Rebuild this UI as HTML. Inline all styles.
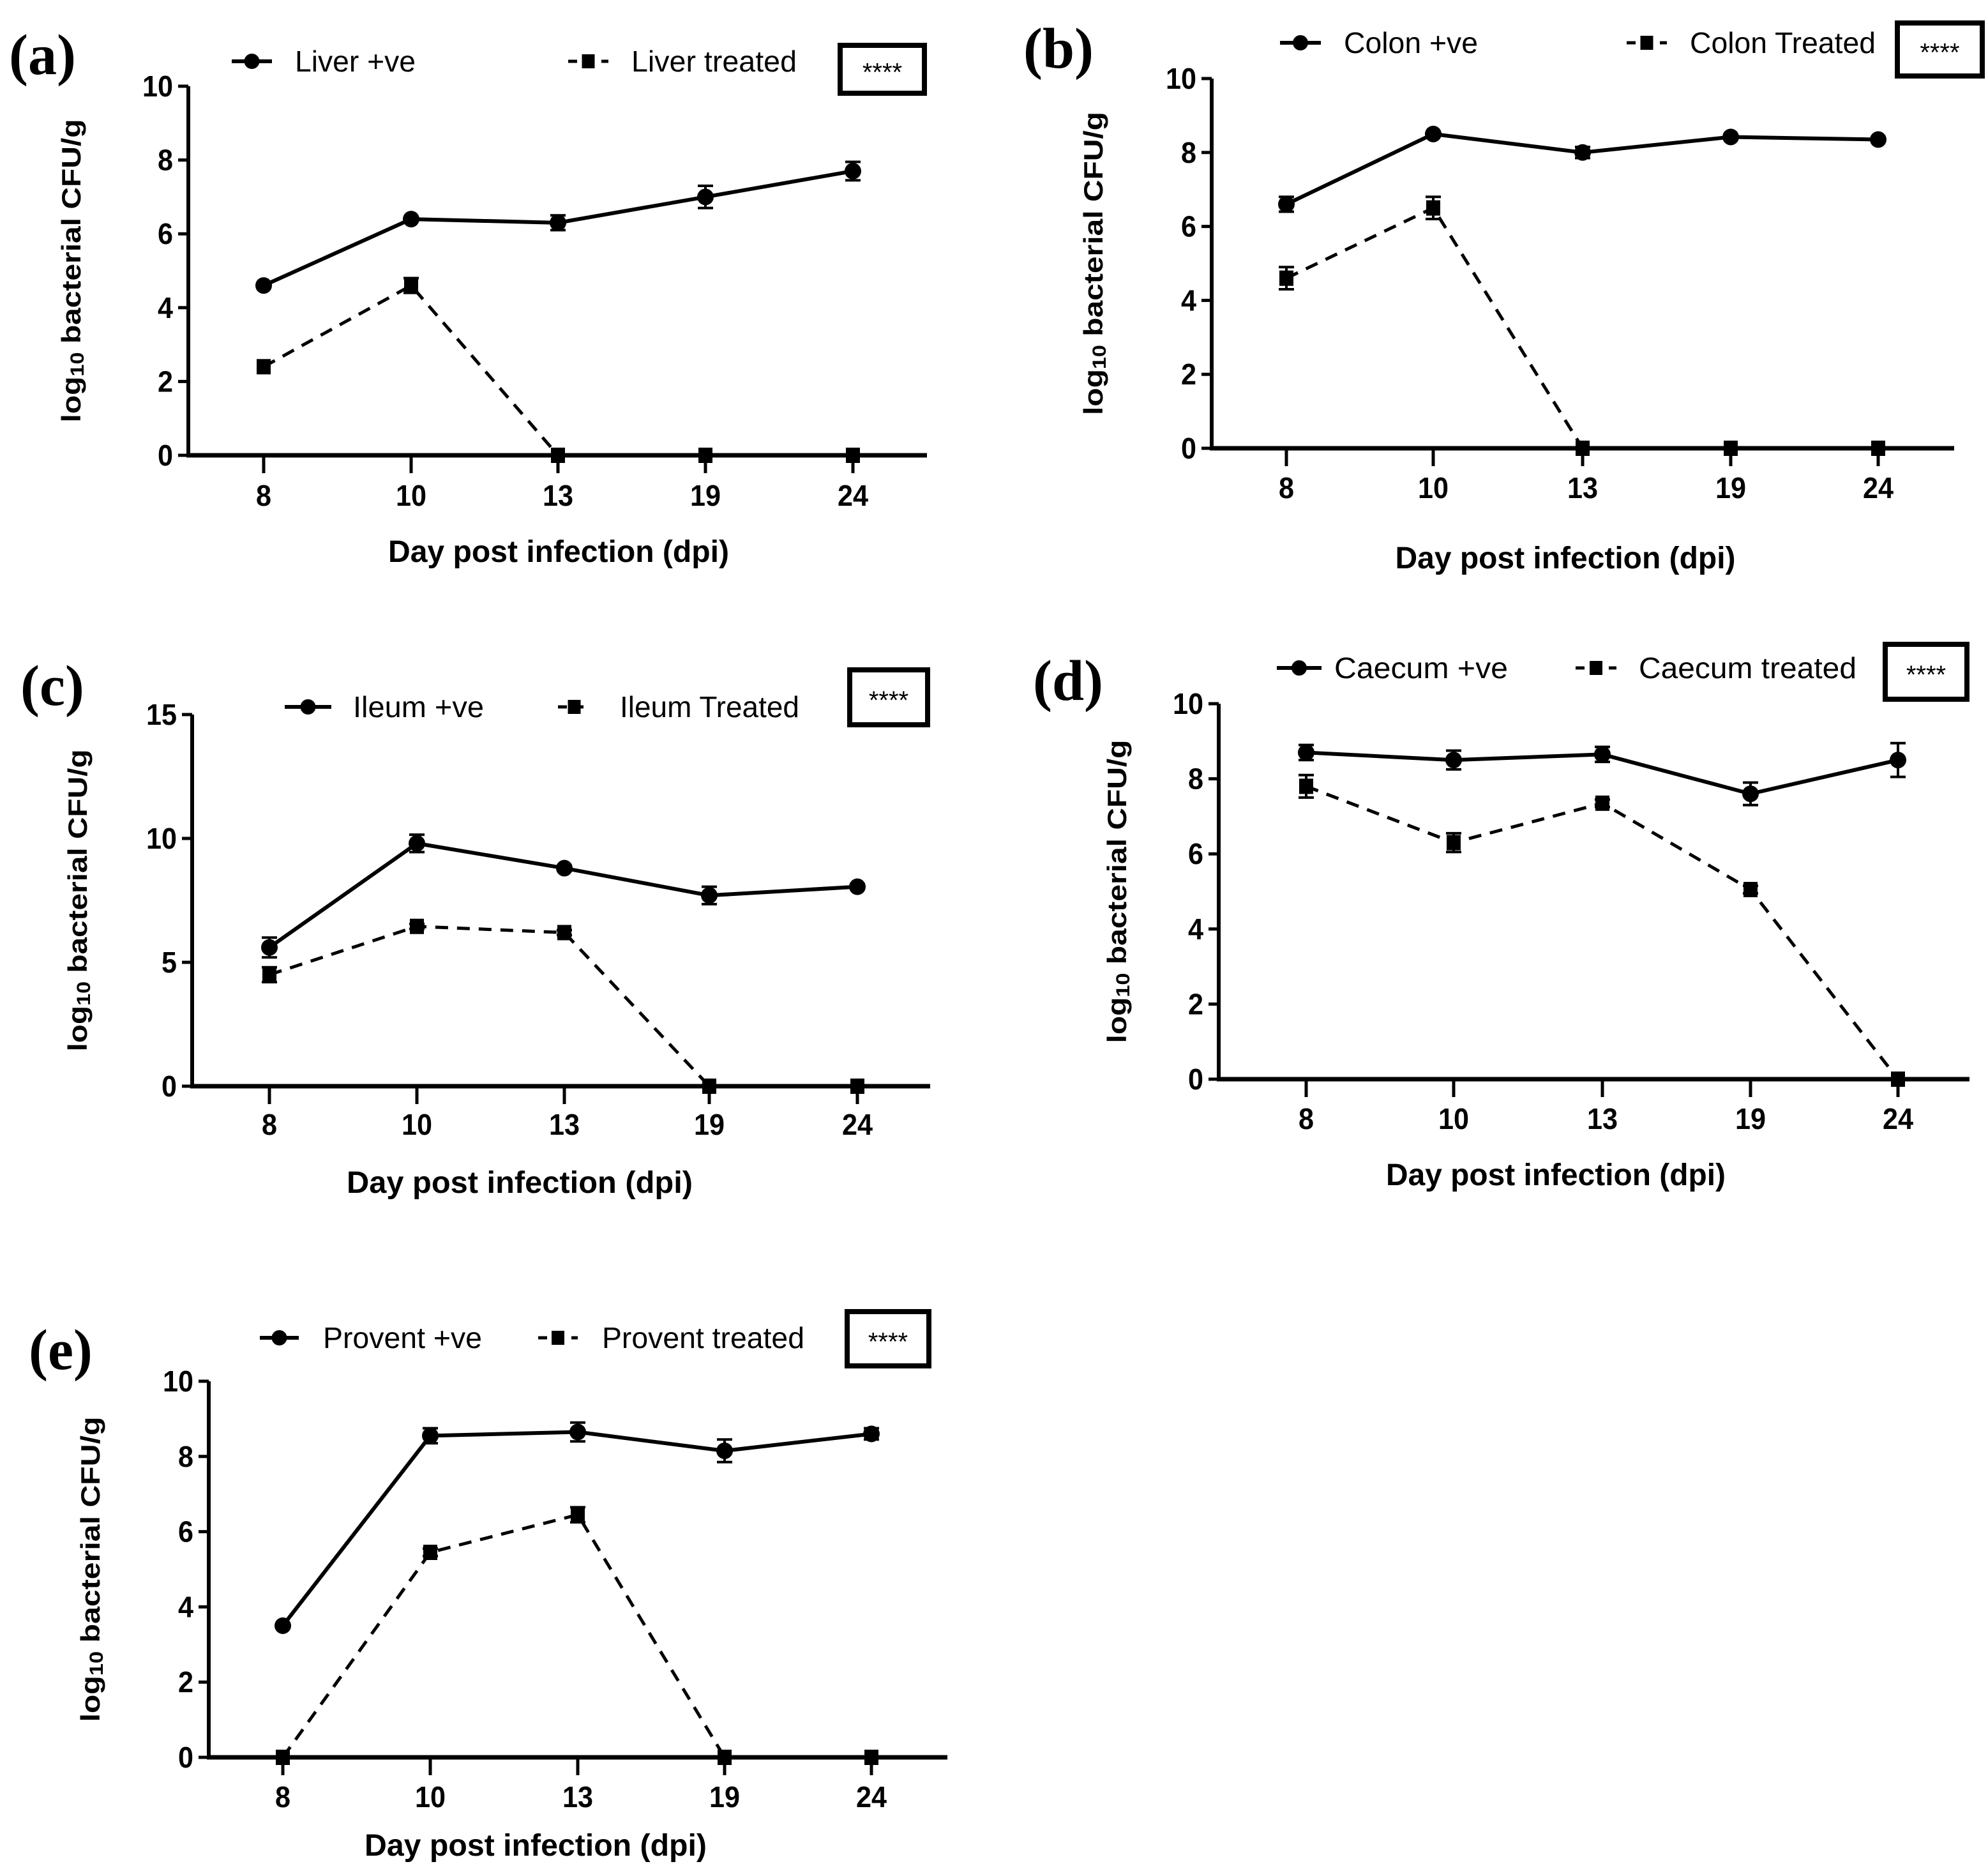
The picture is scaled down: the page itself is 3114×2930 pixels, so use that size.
<!DOCTYPE html>
<html><head><meta charset="utf-8"><style>
html,body{margin:0;padding:0;background:#fff;}
svg{display:block;}
text{font-family:"Liberation Sans",Arial,sans-serif;fill:#000;}
</style></head><body>
<svg id="fig" width="3114" height="2930" viewBox="0 0 3114 2930" xmlns="http://www.w3.org/2000/svg"></svg>
<script>
const categories = ["8","10","13","19","24"];
const yTicksA = [0,2,4,6,8,10];
const yTicksC = [0,5,10,15];
const liverPos = [4.6,6.4,6.3,7.0,7.7];
const liverPosErr = [0.05,0.05,0.2,0.3,0.25];
const liverTrt = [2.4,4.6,0,0,0];
const liverTrtErr = [0.05,0.2,0,0,0];
const colonPos = [6.6,8.5,8.0,8.42,8.35];
const colonPosErr = [0.2,0.05,0.15,0.05,0.05];
const colonTrt = [4.6,6.5,0,0,0];
const colonTrtErr = [0.3,0.3,0,0,0];
const ileumPos = [5.6,9.8,8.8,7.7,8.05];
const ileumPosErr = [0.4,0.35,0.1,0.35,0.1];
const ileumTrt = [4.5,6.45,6.2,0,0];
const ileumTrtErr = [0.3,0.1,0.1,0,0];
const caecumPos = [8.7,8.5,8.65,7.6,8.5];
const caecumPosErr = [0.2,0.25,0.2,0.3,0.45];
const caecumTrt = [7.8,6.3,7.35,5.05,0];
const caecumTrtErr = [0.3,0.25,0.1,0.1,0];
const proventPos = [3.5,8.55,8.65,8.15,8.6];
const proventPosErr = [0.05,0.2,0.25,0.3,0.15];
const proventTrt = [0,5.45,6.45,0,0];
const proventTrtErr = [0,0.1,0.2,0,0];

const NS="http://www.w3.org/2000/svg";
const svg=document.getElementById('fig');
function el(tag,attrs,parent,txt){const e=document.createElementNS(NS,tag);for(const k in attrs)e.setAttribute(k,attrs[k]);if(txt!==undefined)e.textContent=txt;(parent||svg).appendChild(e);return e;}

const panels=[
 {id:'a',letter:'(a)',lx:14,ly:116,ax:295,y0:713,y1:135,xEnd:1452,cx:[413,644,874,1105,1336],ymax:10,ticks:yTicksA,
  tickY:792,titleX:875,titleY:880,titleW:534,ytX:111,ytW:475,
  pos:liverPos,posErr:liverPosErr,trt:liverTrt,trtErr:liverTrtErr,
  leg:{y:96,l1:[363,426],t1:462,w1:189,n1:'Liver +ve',l2:[890,953],t2:989,w2:259,n2:'Liver treated'},box:[1312,67,140,83]},
 {id:'b',letter:'(b)',lx:1603,ly:106,ax:1898,y0:702,y1:123,xEnd:3061,cx:[2015,2245,2479,2711,2942],ymax:10,ticks:yTicksA,
  tickY:780,titleX:2452,titleY:890,titleW:533,ytX:1712,ytW:475,
  pos:colonPos,posErr:colonPosErr,trt:colonTrt,trtErr:colonTrtErr,
  leg:{y:67,l1:[2005,2069],t1:2105,w1:210,n1:'Colon +ve',l2:[2548,2611],t2:2647,w2:291,n2:'Colon Treated'},box:[2968,32,141,91]},
 {id:'c',letter:'(c)',lx:32,ly:1104,ax:301,y0:1701,y1:1119,xEnd:1457,cx:[422,653,884,1111,1343],ymax:15,ticks:yTicksC,
  tickY:1777,titleX:814,titleY:1868,titleW:542,ytX:121,ytW:473,
  pos:ileumPos,posErr:ileumPosErr,trt:ileumTrt,trtErr:ileumTrtErr,
  leg:{y:1107,l1:[446,519],t1:553,w1:205,n1:'Ileum +ve',l2:[874,925],t2:971,w2:281,n2:'Ileum Treated'},box:[1327,1045,130,94]},
 {id:'d',letter:'(d)',lx:1618,ly:1096,ax:1909,y0:1690,y1:1102,xEnd:3085,cx:[2046,2277,2510,2742,2973],ymax:10,ticks:yTicksA,
  tickY:1768,titleX:2437,titleY:1856,titleW:532,ytX:1749,ytW:475,
  pos:caecumPos,posErr:caecumPosErr,trt:caecumTrt,trtErr:caecumTrtErr,
  leg:{y:1046,l1:[2000,2070],t1:2090,w1:272,n1:'Caecum +ve',l2:[2468,2532],t2:2567,w2:341,n2:'Caecum treated'},box:[2949,1005,136,94]},
 {id:'e',letter:'(e)',lx:45,ly:2144,ax:327,y0:2752,y1:2163,xEnd:1484,cx:[443,674,905,1135,1365],ymax:10,ticks:yTicksA,
  tickY:2830,titleX:839,titleY:2906,titleW:536,ytX:141,ytW:478,
  pos:proventPos,posErr:proventPosErr,trt:proventTrt,trtErr:proventTrtErr,
  leg:{y:2095,l1:[407,468],t1:506,w1:249,n1:'Provent +ve',l2:[843,905],t2:943,w2:317,n2:'Provent treated'},box:[1323,2050,136,93]}
];

panels.forEach(p=>{
  const g=el('g',{});
  
  
  const yS=v=>p.y0-(v/p.ymax)*(p.y0-p.y1);
  const xS=i=>p.cx[i];
  const letter=el('text',{x:p.lx,y:p.ly,style:'font-family:"Liberation Serif",serif;font-weight:bold;font-size:90px'},g,p.letter);
  
  
  const yax=el('line',{x1:p.ax,y1:p.y1,x2:p.ax,y2:p.y0+3,stroke:'#000','stroke-width':6},g);
  
  
  const xax=el('line',{x1:p.ax-3,y1:p.y0,x2:p.xEnd,y2:p.y0,stroke:'#000','stroke-width':7},g);
  
  
  p.ticks.forEach(t=>{
    const y=yS(t);
    el('line',{x1:p.ax-16,y1:y,x2:p.ax,y2:y,stroke:'#000','stroke-width':5},g);
    const tl=el('text',{x:p.ax-24,y:y+16,'text-anchor':'end','font-weight':'bold','font-size':46,textLength:String(t).length*24,lengthAdjust:'spacingAndGlyphs'},g,String(t));
    
    
  });
  categories.forEach((c,i)=>{
    const x=xS(i);
    el('line',{x1:x,y1:p.y0,x2:x,y2:p.y0+28,stroke:'#000','stroke-width':5},g);
    const tl=el('text',{x:x,y:p.tickY,'text-anchor':'middle','font-weight':'bold','font-size':46,textLength:c.length*24,lengthAdjust:'spacingAndGlyphs'},g,c);
    
    
  });
  const xt=el('text',{x:p.titleX,y:p.titleY,'text-anchor':'middle','font-weight':'bold','font-size':48,textLength:p.titleW,lengthAdjust:'spacingAndGlyphs'},g,'Day post infection (dpi)');
  
  
  const ymid=(p.y0+p.y1)/2;
  const yt=el('text',{x:p.ytX,y:ymid,transform:`rotate(-90 ${p.ytX} ${ymid})`,'text-anchor':'middle','font-weight':'bold','font-size':42,'dominant-baseline':'central',textLength:p.ytW,lengthAdjust:'spacingAndGlyphs'},g);
  
  
  el('tspan',{},yt,'log');
  el('tspan',{'font-size':30,dy:10},yt,'10');
  el('tspan',{dy:-10},yt,' bacterial CFU/g');
  const pts=arr=>arr.map((v,i)=>xS(i)+','+yS(v)).join(' ');
  const s1=el('polyline',{points:pts(p.pos),fill:'none',stroke:'#000','stroke-width':6,'stroke-linejoin':'round'},g);
  
  
  const s2=el('polyline',{points:pts(p.trt),fill:'none',stroke:'#000','stroke-width':5,'stroke-dasharray':'20 14'},g);
  
  
  function err(v,e,i){ if(e<=0.06) return; const x=xS(i),a=yS(v+e),b=yS(v-e);
    el('line',{x1:x,y1:a,x2:x,y2:b,stroke:'#000','stroke-width':4},g);
    el('line',{x1:x-12,y1:a,x2:x+12,y2:a,stroke:'#000','stroke-width':4},g);
    el('line',{x1:x-12,y1:b,x2:x+12,y2:b,stroke:'#000','stroke-width':4},g);}
  p.pos.forEach((v,i)=>{err(v,p.posErr[i],i);
    const m=el('circle',{cx:xS(i),cy:yS(v),r:13,fill:'#000'},g);
    
    });
  p.trt.forEach((v,i)=>{err(v,p.trtErr[i],i);
    const m=el('rect',{x:xS(i)-11,y:yS(v)-12,width:22,height:24,fill:'#000'},g);
    
    });
  const L=p.leg;
  const lg=el('g',{},g);
  
  
  el('line',{x1:L.l1[0],y1:L.y,x2:L.l1[1],y2:L.y,stroke:'#000','stroke-width':6},lg);
  el('circle',{cx:(L.l1[0]+L.l1[1])/2,cy:L.y,r:12,fill:'#000'},lg);
  const t1=el('text',{x:L.t1,y:L.y+16,'font-size':46,textLength:L.w1,lengthAdjust:'spacingAndGlyphs'},lg,L.n1);
  
  
  el('line',{x1:L.l2[0],y1:L.y,x2:L.l2[1],y2:L.y,stroke:'#000','stroke-width':5,'stroke-dasharray':'14 12'},lg);
  el('rect',{x:(L.l2[0]+L.l2[1])/2-10,y:L.y-11,width:20,height:22,fill:'#000'},lg);
  const t2=el('text',{x:L.t2,y:L.y+16,'font-size':46,textLength:L.w2,lengthAdjust:'spacingAndGlyphs'},lg,L.n2);
  
  
  const B=p.box;
  const bx=el('rect',{x:B[0]+4,y:B[1]+4,width:B[2]-8,height:B[3]-8,fill:'none',stroke:'#000','stroke-width':8},g);
  
  
  const st=el('text',{x:B[0]+B[2]/2,y:B[1]+B[3]/2+18,'text-anchor':'middle','font-size':40},g,'****');
  
  
});
</script>
</body></html>
